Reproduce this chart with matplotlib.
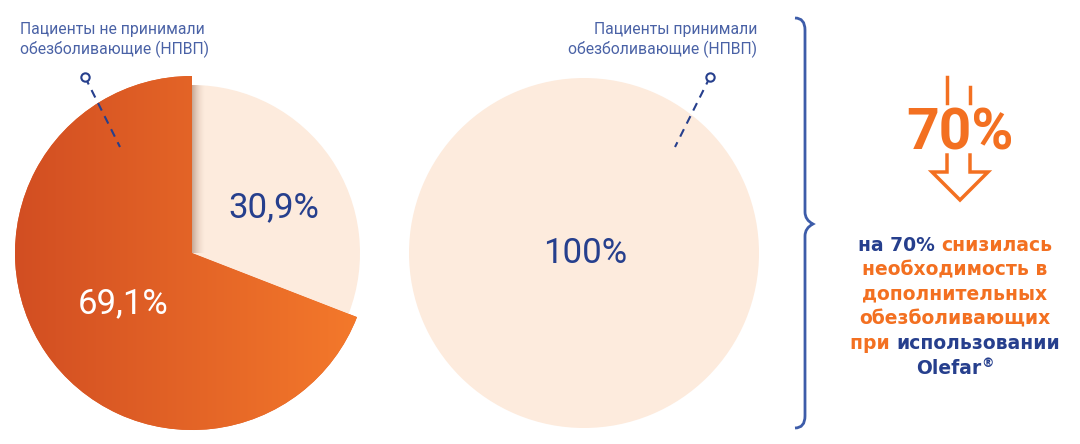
"""Pie charts: need for additional painkillers with / without NSAIDs."""

import numpy as np
import matplotlib.pyplot as plt
from matplotlib.colors import LinearSegmentedColormap
from matplotlib.path import Path
from matplotlib.patches import PathPatch

# data
left_values = [69.1, 30.9]
left_labels = ['69,1%', '30,9%']
left_title = 'Пациенты не принимали\nобезболивающие (НПВП)'
right_values = [100]
right_labels = ['100%']
right_title = 'Пациенты принимали\nобезболивающие (НПВП)'
big_value = '70%'
note_lines = [
    [('на 70% ', 'navy'), ('снизилась', 'orange')],
    [('необходимость в', 'orange')],
    [('дополнительных', 'orange')],
    [('обезболивающих', 'orange')],
    [('при ', 'orange'), ('использовании', 'navy')],
    [('Olefar', 'navy'), ('®', 'sup')],
]

ORANGE = '#F37021'
LIGHT = '#FDEBDD'
NAVY = '#263F8D'
TITLE_BLUE = '#4A62A6'
BRACE_BLUE = '#3D5CA9'
colors = {'navy': NAVY, 'orange': ORANGE, 'sup': NAVY}

thin = ['Roboto', 'DejaVu Sans']

fig = plt.figure(figsize=(10.8, 4.44), dpi=100)
ax = fig.add_axes([0, 0, 1, 1])

# left pie (y axis is inverted later, so angles run the other way)
c1 = (192, 253)
wedges, _ = ax.pie(left_values, colors=['#E05F25', LIGHT], startangle=-90,
                   counterclock=False, center=c1, radius=177)
wedges[1].set_radius(168)

grad = np.linspace(0, 1, 256).reshape(1, -1)
cmap = LinearSegmentedColormap.from_list('or', ['#D24E22', '#F57A2B'])
im = ax.imshow(grad, cmap=cmap, extent=[c1[0] - 177, c1[0] + 177, c1[1] + 177, c1[1] - 177],
               aspect='auto', zorder=2)
im.set_clip_path(wedges[0])

# soft shadow along the cut edge
sh = np.zeros((1, 64, 4))
sh[..., 0], sh[..., 1], sh[..., 2] = 0.45, 0.25, 0.15
sh[..., 3] = np.linspace(0.6, 0, 64) ** 1.8
im2 = ax.imshow(sh, extent=[c1[0], c1[0] + 14, c1[1], c1[1] - 180], aspect='auto', zorder=2)
im2.set_clip_path(wedges[1])

ax.text(123, 304, left_labels[0], color='white', fontsize=25, family=thin,
        ha='center', va='center', zorder=4)
ax.text(274, 208, left_labels[1], color=NAVY, fontsize=25, family=thin,
        ha='center', va='center', zorder=4)
ax.text(20, 40, left_title, color=TITLE_BLUE, fontsize=11.3, family=thin,
        ha='left', va='center', linespacing=1.3, zorder=4)

# right pie
c2 = (584, 253)
ax.pie(right_values, colors=[LIGHT], startangle=90, center=c2, radius=175)
ax.text(585, 253, right_labels[0], color=NAVY, fontsize=25, family=thin,
        ha='center', va='center', zorder=4)
ax.text(757, 40, right_title, color=TITLE_BLUE, fontsize=11.3, family=thin,
        ha='right', va='center', linespacing=1.3, zorder=4)

# leader lines
for (x0, y0), (x1, y1) in [((85, 77), (120, 147)), ((710, 77), (675, 147))]:
    ax.plot([x0, x1], [y0, y1], color=NAVY, lw=1.5, ls=(0, (4, 3)), zorder=5)
    ax.plot([x0], [y0], marker='o', ms=6, mfc='white', mec=NAVY, mew=1.5, zorder=6)

# curly brace
verts = [(795, 18), (805, 18), (805, 30), (805, 30),
         (805, 212), (805, 220), (813, 224), (813, 224),
         (805, 228), (805, 236), (805, 236),
         (805, 416), (805, 428), (795, 428)]
codes = [Path.MOVETO, Path.CURVE3, Path.CURVE3, Path.LINETO,
         Path.LINETO, Path.CURVE3, Path.CURVE3, Path.LINETO,
         Path.CURVE3, Path.CURVE3, Path.LINETO,
         Path.LINETO, Path.CURVE3, Path.CURVE3]
ax.add_patch(PathPatch(Path(verts, codes), fill=False, ec=BRACE_BLUE, lw=2, zorder=5))

# big 70% with arrow
ax.text(960, 134, big_value, color=ORANGE, fontsize=41, family=['Roboto', 'DejaVu Sans'],
        weight='bold', ha='center', va='center', zorder=5)
ax.plot([947, 947], [77, 103], color=ORANGE, lw=2.5)
ax.plot([970, 970], [87, 103], color=ORANGE, lw=2.5)
ax.plot([947, 947, 932, 960, 988, 970, 970], [155, 172, 172, 200, 172, 172, 155],
        color=ORANGE, lw=2.5, solid_joinstyle='miter')

# note text, centred line by line with mixed colours
renderer = fig.canvas.get_renderer()
y = 245
for line in note_lines:
    parts = []
    for txt, col in line:
        sup = col == 'sup'
        t = ax.text(0, y - 5 if sup else y, txt, color=colors[col],
                    fontsize=9 if sup else 13.5, weight='bold',
                    family=['DejaVu Sans'], ha='left', va='center', zorder=5)
        parts.append(t)
    widths = [p.get_window_extent(renderer).width for p in parts]
    x = 955 - sum(widths) / 2
    for p, w in zip(parts, widths):
        p.set_x(x)
        x += w
    y += 24.6

ax.set_xlim(0, 1080)
ax.set_ylim(444, 0)
ax.set_aspect('equal')
ax.axis('off')

fig.savefig('out.png', dpi=100)
